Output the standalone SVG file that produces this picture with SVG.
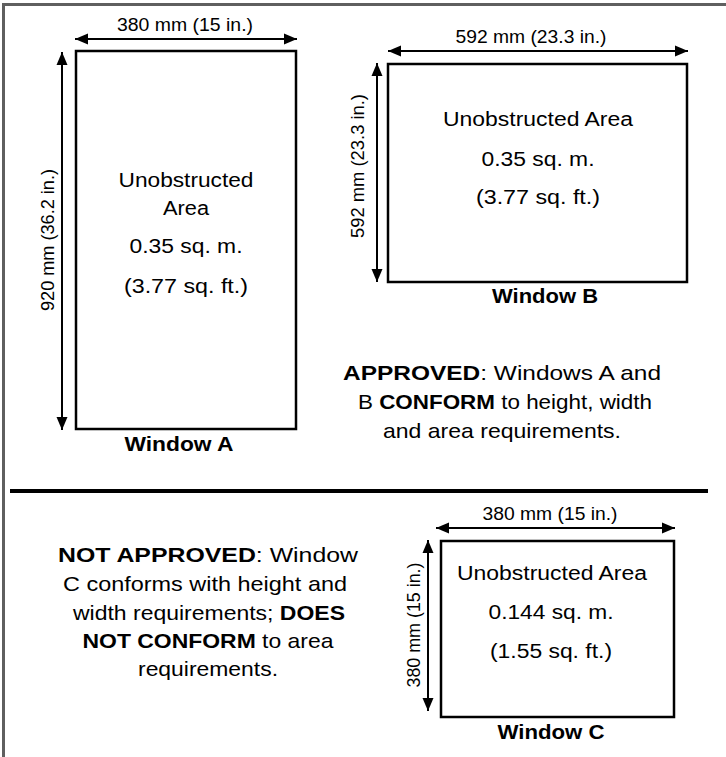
<svg xmlns="http://www.w3.org/2000/svg" width="726" height="757" viewBox="0 0 726 757">
<style>
text{font-family:"Liberation Sans",Arial,sans-serif;fill:#000}
.dim{font-size:18px}
.vdim{font-size:19px}
.in{font-size:20px}
.lbl{font-size:20px;font-weight:bold}
.p{font-size:21px}
.b{font-weight:bold}
.win{fill:#fff;stroke:#000;stroke-width:2.5}
.arr{stroke:#000;stroke-width:2;fill:none;marker-start:url(#ah);marker-end:url(#ah)}
</style>
<defs>
<marker id="ah" markerUnits="userSpaceOnUse" markerWidth="14" markerHeight="12" refX="13" refY="5.5" orient="auto-start-reverse" viewBox="0 0 14 11">
<path d="M0,0 L13,5.5 L0,11 Z" fill="#000"/>
</marker>
</defs>
<rect width="726" height="757" fill="#fff"/>
<g id="frame">
<line x1="3.5" y1="4.5" x2="726" y2="4.5" stroke="#5f5f5f" stroke-width="3"/>
<line x1="3.5" y1="3" x2="3.5" y2="757" stroke="#5f5f5f" stroke-width="3"/>
<line x1="10" y1="491" x2="708" y2="491" stroke="#000" stroke-width="4"/>
</g>
<g id="connectors">
<line class="arr" x1="75" y1="39" x2="297" y2="39"/>
<line class="arr" x1="62" y1="52" x2="62" y2="430"/>
<line class="arr" x1="388" y1="51" x2="688" y2="51"/>
<line class="arr" x1="377" y1="63" x2="377" y2="282"/>
<line class="arr" x1="436" y1="528" x2="675" y2="528"/>
<line class="arr" x1="428" y1="540" x2="428" y2="711"/>
</g>
<g id="windowA">
<rect class="win" x="76" y="51" width="220" height="378"/>
<text class="dim" x="185" y="31" text-anchor="middle" textLength="136" lengthAdjust="spacingAndGlyphs">380 mm (15 in.)</text>
<text class="vdim" transform="translate(54,240) rotate(-90)" text-anchor="middle" textLength="142" lengthAdjust="spacingAndGlyphs">920 mm (36.2 in.)</text>
<text class="in" x="186" y="187" text-anchor="middle" textLength="135" lengthAdjust="spacingAndGlyphs">Unobstructed</text>
<text class="in" x="186" y="215" text-anchor="middle" textLength="46" lengthAdjust="spacingAndGlyphs">Area</text>
<text class="in" x="186" y="253" text-anchor="middle" textLength="113" lengthAdjust="spacingAndGlyphs">0.35 sq. m.</text>
<text class="in" x="186" y="293" text-anchor="middle" textLength="124" lengthAdjust="spacingAndGlyphs">(3.77 sq. ft.)</text>
<text class="lbl" x="179" y="451" text-anchor="middle" textLength="109" lengthAdjust="spacingAndGlyphs">Window A</text>
</g>
<g id="windowB">
<rect class="win" x="388" y="64" width="299" height="218"/>
<text class="dim" x="531" y="43" text-anchor="middle" textLength="151" lengthAdjust="spacingAndGlyphs">592 mm (23.3 in.)</text>
<text class="vdim" transform="translate(364,166) rotate(-90)" text-anchor="middle" textLength="144" lengthAdjust="spacingAndGlyphs">592 mm (23.3 in.)</text>
<text class="in" x="538" y="126" text-anchor="middle" textLength="190" lengthAdjust="spacingAndGlyphs">Unobstructed Area</text>
<text class="in" x="538" y="166" text-anchor="middle" textLength="113" lengthAdjust="spacingAndGlyphs">0.35 sq. m.</text>
<text class="in" x="538" y="204" text-anchor="middle" textLength="124" lengthAdjust="spacingAndGlyphs">(3.77 sq. ft.)</text>
<text class="lbl" x="545" y="303" text-anchor="middle" textLength="106" lengthAdjust="spacingAndGlyphs">Window B</text>
</g>
<g id="approved">
<text class="p" x="502" y="380" text-anchor="middle" textLength="318" lengthAdjust="spacingAndGlyphs"><tspan class="b">APPROVED</tspan>: Windows A and</text>
<text class="p" x="505" y="409" text-anchor="middle" textLength="294" lengthAdjust="spacingAndGlyphs">B <tspan class="b">CONFORM</tspan> to height, width</text>
<text class="p" x="502" y="438" text-anchor="middle" textLength="238" lengthAdjust="spacingAndGlyphs">and area requirements.</text>
</g>
<g id="notApproved">
<text class="p" x="208" y="562" text-anchor="middle" textLength="300" lengthAdjust="spacingAndGlyphs"><tspan class="b">NOT APPROVED</tspan>: Window</text>
<text class="p" x="205" y="591" text-anchor="middle" textLength="284" lengthAdjust="spacingAndGlyphs">C conforms with height and</text>
<text class="p" x="209" y="620" text-anchor="middle" textLength="272" lengthAdjust="spacingAndGlyphs">width requirements; <tspan class="b">DOES</tspan></text>
<text class="p" x="208" y="648" text-anchor="middle" textLength="251" lengthAdjust="spacingAndGlyphs"><tspan class="b">NOT CONFORM</tspan> to area</text>
<text class="p" x="208" y="676" text-anchor="middle" textLength="140" lengthAdjust="spacingAndGlyphs">requirements.</text>
</g>
<g id="windowC">
<rect class="win" x="441" y="541" width="233" height="176"/>
<text class="dim" x="550" y="520" text-anchor="middle" textLength="135" lengthAdjust="spacingAndGlyphs">380 mm (15 in.)</text>
<text class="vdim" transform="translate(420,625) rotate(-90)" text-anchor="middle" textLength="125" lengthAdjust="spacingAndGlyphs">380 mm (15 in.)</text>
<text class="in" x="552" y="580" text-anchor="middle" textLength="190" lengthAdjust="spacingAndGlyphs">Unobstructed Area</text>
<text class="in" x="551" y="619" text-anchor="middle" textLength="125" lengthAdjust="spacingAndGlyphs">0.144 sq. m.</text>
<text class="in" x="551" y="658" text-anchor="middle" textLength="122" lengthAdjust="spacingAndGlyphs">(1.55 sq. ft.)</text>
<text class="lbl" x="551" y="739" text-anchor="middle" textLength="107" lengthAdjust="spacingAndGlyphs">Window C</text>
</g>
</svg>
